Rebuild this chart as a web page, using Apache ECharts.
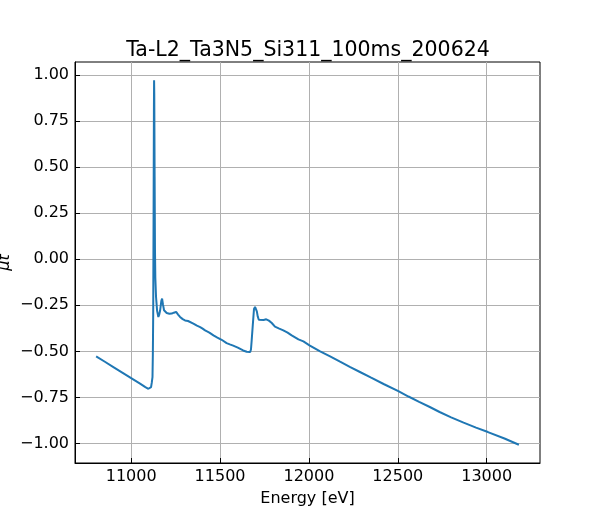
<!DOCTYPE html>
<html>
<head>
<meta charset="utf-8">
<script src="https://cdn.jsdelivr.net/npm/echarts@6/dist/echarts.min.js"></script>
<style>
html,body{margin:0;padding:0;background:#fff;}
#chart{width:600px;height:520px;}
</style>
</head>
<body>
<div id="chart"></div>
<script>
const titleText = 'Ta-L2_Ta3N5_Si311_100ms_200624';
const xLabel = 'Energy [eV]';
const yLabel = 'μt';
const xTicks = [11000, 11500, 12000, 12500, 13000];
const yTicks = [-1.0, -0.75, -0.5, -0.25, 0.0, 0.25, 0.5, 0.75, 1.0];
const energy = [10803,10850,10900,10950,11000,11050,11080,11097,11107,11112,11116,11120,11122,11124,11126,11128,11129,11130,11132,11134,11136,11140,11146,11153,11158,11163,11170,11174,11179,11185,11200,11215,11228,11240,11253,11264,11275,11290,11303,11320,11331,11350,11370,11388,11400,11416,11440,11463,11485,11509,11537,11555,11574,11600,11630,11650,11669,11674,11678,11684,11691,11697,11702,11707,11712,11718,11729,11745,11760,11775,11791,11809,11830,11856,11880,11903,11941,11969,12003,12063,12119,12175,12230,12287,12350,12420,12503,12560,12620,12680,12735,12800,12870,12940,13007,13100,13181];
const mu = [-0.527,-0.555,-0.585,-0.615,-0.645,-0.675,-0.694,-0.703,-0.700,-0.694,-0.670,-0.640,-0.52,-0.30,0.20,0.80,0.972,0.90,0.45,0.05,-0.10,-0.205,-0.28,-0.313,-0.30,-0.277,-0.225,-0.214,-0.245,-0.277,-0.292,-0.296,-0.295,-0.290,-0.286,-0.300,-0.313,-0.325,-0.332,-0.335,-0.341,-0.349,-0.360,-0.368,-0.375,-0.386,-0.398,-0.413,-0.425,-0.437,-0.455,-0.462,-0.469,-0.480,-0.495,-0.502,-0.504,-0.49,-0.44,-0.36,-0.270,-0.259,-0.262,-0.283,-0.310,-0.328,-0.335,-0.330,-0.326,-0.333,-0.346,-0.366,-0.375,-0.386,-0.398,-0.413,-0.435,-0.446,-0.467,-0.500,-0.527,-0.556,-0.584,-0.612,-0.643,-0.677,-0.716,-0.745,-0.774,-0.802,-0.829,-0.858,-0.887,-0.914,-0.938,-0.973,-1.007];

const xmin = Math.min(...energy), xmax = Math.max(...energy);
const ymin = Math.min(...mu), ymax = Math.max(...mu);
const xr = xmax - xmin, yr = ymax - ymin;

const font = 'DejaVu Sans';
const chart = echarts.init(document.getElementById('chart'), null, {renderer: 'canvas'});
chart.setOption({
  animation: false,
  backgroundColor: '#fff',
  title: {
    text: titleText,
    left: 303,
    top: 35,
    textAlign: 'center',
    textStyle: {fontFamily: font, fontSize: 20.5, fontWeight: 'normal', color: '#000'}
  },
  grid: {left: 75, right: 60, top: 62, bottom: 57, containLabel: false, outerBoundsMode: 'none', show: true, borderColor: '#000', borderWidth: 1, backgroundColor: 'transparent'},
  xAxis: {
    type: 'value',
    min: xmin - 0.05 * xr,
    max: xmax + 0.05 * xr,
    name: xLabel,
    nameLocation: 'middle',
    nameGap: 28,
    nameTextStyle: {fontFamily: font, fontSize: 16, color: '#000'},
    axisLine: {show: true, onZero: false, lineStyle: {color: '#000', width: 1}},
    axisTick: {show: true, inside: true, length: 5, lineStyle: {color: '#000', width: 1}, customValues: xTicks},
    axisLabel: {fontFamily: font, fontSize: 16, color: '#000', margin: 6, customValues: xTicks, formatter: v => String(Math.round(v))},
    splitLine: {show: true, lineStyle: {color: '#b0b0b0', width: 1}}
  },
  yAxis: {
    type: 'value',
    min: ymin - 0.05 * yr,
    max: ymax + 0.05 * yr,
    name: yLabel,
    nameLocation: 'middle',
    nameGap: 62,
    nameMoveOverlap: false,
    nameRotate: 90,
    nameTextStyle: {fontFamily: font, fontSize: 16, color: '#000', fontStyle: 'italic'},
    axisLine: {show: true, onZero: false, lineStyle: {color: '#000', width: 1}},
    axisTick: {show: true, inside: true, length: 5, lineStyle: {color: '#000', width: 1}, customValues: yTicks},
    axisLabel: {fontFamily: font, fontSize: 16, color: '#000', margin: 6, customValues: yTicks, formatter: v => v.toFixed(2).replace('-', '\u2212')},
    splitLine: {show: true, lineStyle: {color: '#b0b0b0', width: 1}}
  },
  series: [{
    type: 'line',
    data: energy.map((e, i) => [e, mu[i]]),
    showSymbol: false,
    symbol: 'none',
    lineStyle: {color: '#1f77b4', width: 2},
    itemStyle: {color: '#1f77b4'}
  }]
});
</script>
</body>
</html>
